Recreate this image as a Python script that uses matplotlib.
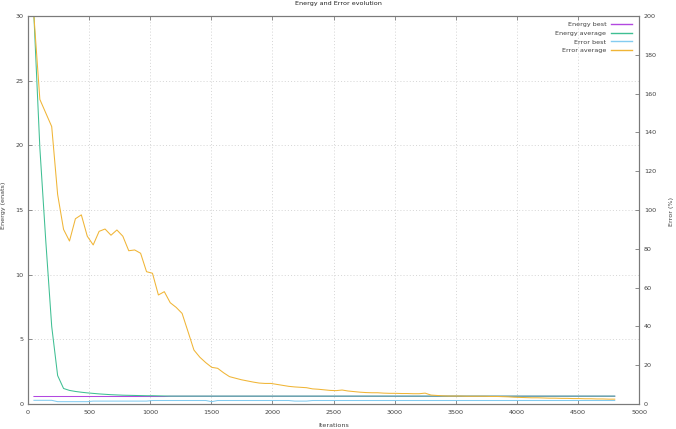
import matplotlib
matplotlib.use("Agg")
import matplotlib.pyplot as plt

plt.rcParams['font.family'] = ['DejaVu Sans']

iterations = [48.5, 97, 145.5, 194, 242.5, 291, 339.5, 388, 436.5, 485,
              533.5, 582, 630.5, 679, 727.5, 776, 824.5, 873, 921.5, 970,
              1018.5, 1067, 1115.5, 1164, 1212.5, 1261, 1309.5, 1358, 1406.5, 1455,
              1503.5, 1552, 1600.5, 1649, 1697.5, 1746, 1794.5, 1843, 1891.5, 1940,
              1988.5, 2037, 2085.5, 2134, 2182.5, 2231, 2279.5, 2328, 2376.5, 2425,
              2473.5, 2522, 2570.5, 2619, 2667.5, 2716, 2764.5, 2813, 2861.5, 2910,
              2958.5, 3007, 3055.5, 3104, 3152.5, 3201, 3249.5, 3298, 3346.5, 3395,
              3443.5, 3492, 3540.5, 3589, 3637.5, 3686, 3734.5, 3783, 3831.5, 3880,
              3928.5, 3977, 4025.5, 4074, 4122.5, 4171, 4219.5, 4268, 4316.5, 4365,
              4413.5, 4462, 4510.5, 4559, 4607.5, 4656, 4704.5, 4753, 4801.5]

energy_best = [0.58, 0.58, 0.58, 0.58, 0.58, 0.58, 0.58, 0.58, 0.58, 0.58,
               0.58, 0.58, 0.58, 0.58, 0.58, 0.58, 0.58, 0.58, 0.58, 0.58,
               0.58, 0.58, 0.58, 0.60, 0.60, 0.60, 0.60, 0.60, 0.60, 0.60,
               0.60, 0.60, 0.60, 0.60, 0.60, 0.60, 0.60, 0.60, 0.60, 0.60,
               0.60, 0.60, 0.60, 0.60, 0.60, 0.60, 0.60, 0.60, 0.60, 0.60,
               0.60, 0.60, 0.60, 0.60, 0.60, 0.60, 0.60, 0.60, 0.60, 0.60,
               0.60, 0.60, 0.60, 0.60, 0.60, 0.60, 0.60, 0.60, 0.60, 0.60,
               0.60, 0.60, 0.60, 0.60, 0.60, 0.60, 0.60, 0.60, 0.60, 0.60,
               0.60, 0.60, 0.60, 0.60, 0.60, 0.60, 0.60, 0.60, 0.60, 0.60,
               0.60, 0.60, 0.60, 0.60, 0.60, 0.60, 0.60, 0.60, 0.60]

energy_average = [30.0, 19.8, 12.6, 6.0, 2.2, 1.2, 1.05, 0.97, 0.91, 0.86,
                  0.82, 0.78, 0.75, 0.72, 0.70, 0.68, 0.67, 0.66, 0.65, 0.64,
                  0.64, 0.63, 0.62, 0.61, 0.61, 0.61, 0.61, 0.61, 0.61, 0.61,
                  0.61, 0.61, 0.61, 0.61, 0.61, 0.61, 0.61, 0.61, 0.61, 0.61,
                  0.61, 0.61, 0.61, 0.61, 0.61, 0.61, 0.61, 0.61, 0.61, 0.61,
                  0.61, 0.61, 0.61, 0.61, 0.61, 0.61, 0.61, 0.61, 0.61, 0.61,
                  0.61, 0.61, 0.61, 0.61, 0.61, 0.61, 0.61, 0.61, 0.61, 0.61,
                  0.61, 0.61, 0.61, 0.61, 0.61, 0.61, 0.61, 0.61, 0.61, 0.61,
                  0.61, 0.61, 0.61, 0.61, 0.61, 0.61, 0.61, 0.61, 0.61, 0.61,
                  0.61, 0.61, 0.61, 0.61, 0.61, 0.61, 0.61, 0.61, 0.61]

error_best = [1.9, 1.9, 1.9, 1.9, 1.2, 1.2, 1.2, 1.2, 1.2, 1.2,
              1.5, 1.5, 1.5, 1.5, 1.5, 1.5, 1.5, 1.5, 1.5, 1.5,
              1.8, 1.8, 1.8, 1.8, 1.8, 1.8, 1.8, 1.8, 1.8, 1.8,
              1.2, 1.8, 1.8, 1.8, 1.8, 1.8, 1.8, 1.8, 1.8, 1.8,
              1.8, 1.8, 1.8, 1.8, 1.5, 1.5, 1.5, 1.8, 1.8, 1.8,
              1.8, 1.8, 1.8, 1.8, 1.8, 1.8, 1.8, 1.8, 1.8, 1.8,
              1.8, 1.8, 1.8, 1.8, 1.8, 1.8, 1.8, 1.8, 1.8, 1.8,
              1.8, 1.8, 1.8, 1.8, 1.8, 1.8, 1.8, 1.8, 1.8, 1.8,
              1.8, 1.8, 1.8, 1.8, 1.8, 1.8, 1.8, 1.8, 1.8, 1.8,
              1.8, 1.8, 1.8, 1.8, 1.8, 1.8, 1.8, 1.8, 1.8]

error_average = [200.0, 157.0, 150.0, 143.0, 108.0, 90.0, 84.0, 95.5, 97.5, 86.5,
                 82.0, 89.0, 90.2, 87.0, 89.7, 86.5, 79.0, 79.4, 77.7, 68.2,
                 67.4, 56.2, 57.9, 52.2, 49.8, 46.7, 37.3, 27.8, 24.1, 21.3,
                 18.9, 18.4, 16.1, 14.1, 13.3, 12.5, 11.9, 11.3, 10.8, 10.6,
                 10.6, 10.1, 9.6, 9.1, 8.8, 8.6, 8.4, 7.8, 7.6, 7.3,
                 7.0, 6.9, 7.2, 6.7, 6.4, 6.1, 5.9, 5.8, 5.8, 5.6,
                 5.5, 5.5, 5.4, 5.4, 5.3, 5.3, 5.6, 4.6, 4.4, 4.2,
                 4.1, 4.1, 4.1, 4.0, 4.0, 4.0, 4.0, 3.9, 3.9, 3.8,
                 3.7, 3.5, 3.4, 3.3, 3.2, 3.2, 3.1, 3.0, 3.0, 2.9,
                 2.9, 2.8, 2.8, 2.7, 2.7, 2.6, 2.6, 2.5, 2.5]

x_ticks = [0, 500, 1000, 1500, 2000, 2500, 3000, 3500, 4000, 4500, 5000]
energy_ticks = [0, 5, 10, 15, 20, 25, 30]
error_ticks = [0, 20, 40, 60, 80, 100, 120, 140, 160, 180, 200]

W, H = 676, 429
fig = plt.figure(figsize=(W / 100, H / 100), dpi=100)
L, R, T, B = 28, 639, 16, 404
ax = fig.add_axes([L / W, 1 - B / H, (R - L) / W, (B - T) / H])
ax2 = ax.twinx()

FS = 4.6
tick_col = '#404040'
spine_col = '#7a7a7a'

c_eb = '#b248e0'
c_ea = '#3fbf93'
c_rb = '#84ccf0'
c_ra = '#f0b536'
lw = 0.75

h1, = ax.plot(iterations, energy_best, color=c_eb, lw=lw, label='Energy best')
h2, = ax.plot(iterations, energy_average, color=c_ea, lw=lw, label='Energy average')
h3, = ax2.plot(iterations, error_best, color=c_rb, lw=lw, label='Error best')
h4, = ax2.plot(iterations, error_average, color=c_ra, lw=lw, label='Error average')

ax.set_xlim(0, 5000)
ax.set_ylim(0, 30)
ax2.set_ylim(0, 200)
ax.set_xticks(x_ticks)
ax.set_yticks(energy_ticks)
ax2.set_yticks(error_ticks)

ax.grid(True, color='#c8c8c8', lw=0.5, linestyle=(0, (1.5, 3)))
ax.set_axisbelow(True)

ax.tick_params(axis='x', direction='in', length=3, width=0.6, color=spine_col,
               labelsize=FS, labelcolor=tick_col, pad=4.6, top=True)
ax.tick_params(axis='y', direction='in', length=3, width=0.6, color=spine_col,
               labelsize=FS, labelcolor=tick_col, pad=3.4, right=False)
ax2.tick_params(axis='y', direction='in', length=3, width=0.6, color=spine_col,
                labelsize=FS, labelcolor=tick_col, pad=3.6)

for a in (ax, ax2):
    for s in a.spines.values():
        s.set_color(spine_col)
        s.set_linewidth(0.8)

leg = ax2.legend(handles=[h1, h2, h3, h4], loc='upper right',
                 bbox_to_anchor=(632 / W, 1 - 21.5 / H), bbox_transform=fig.transFigure,
                 frameon=False, markerfirst=False, fontsize=FS,
                 handlelength=3.3, handletextpad=0.7, labelspacing=0.52,
                 borderpad=0, borderaxespad=0)
for t in leg.get_texts():
    t.set_color(tick_col)
for ln in leg.get_lines():
    ln.set_linewidth(1.0)

fig.text(338 / W, 1 - 3.5 / H, 'Energy and Error evolution', ha='center', va='center',
         fontsize=FS, color='#202020')
fig.text(333.5 / W, 1 - 425.5 / H, 'Iterations', ha='center', va='center',
         fontsize=FS, color=tick_col)
fig.text(3.5 / W, 1 - 205 / H, 'Energy (enats)', ha='center', va='center',
         rotation=90, fontsize=FS, color=tick_col)
fig.text(671.5 / W, 1 - 211 / H, 'Error (%)', ha='center', va='center',
         rotation=90, fontsize=FS, color=tick_col)

fig.savefig('out.png', dpi=100)
